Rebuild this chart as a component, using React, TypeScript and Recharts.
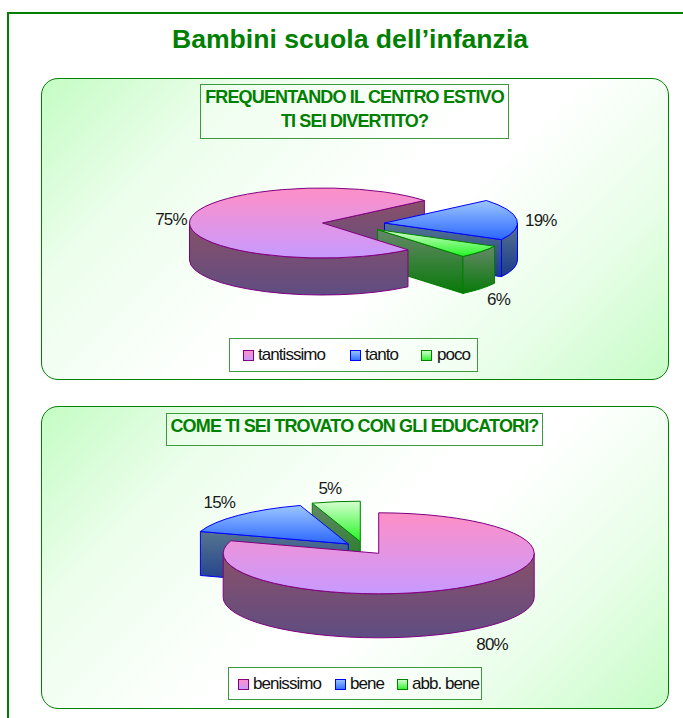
import { PieChart, Pie, Legend } from "recharts";

const FONT = '"Liberation Sans", Arial, sans-serif';

// ── Data ──────────────────────────────────────────────
const divertitoNames = ["tantissimo", "tanto", "poco"];
const divertitoValues = [75, 19, 6];
const educatoriNames = ["benissimo", "bene", "abb. bene"];
const educatoriValues = [80, 15, 5];

const SLICE_STYLES = [
  { top: "pinkTop", wall: "pinkWall", stroke: "#800080", swatch: "pinkSwatch" },
  { top: "blueTop", wall: "blueWall", stroke: "#0000ff", swatch: "blueSwatch" },
  { top: "greenTop", wall: "greenWall", stroke: "#008000", swatch: "greenSwatch" },
];

const RAD = Math.PI / 180;

type Geometry = {
  cx: number;
  cy: number;
  rx: number;
  ry: number;
  depth: number;
  explode: number[][];
  labelNudge: number[][];
};

// fake 3D pie: the library gives the angles, this squashes them on an ellipse
function sectorPaths(g: Geometry, index: number, startAngle: number, endAngle: number) {
  const [ox, oy] = g.explode[index];
  const ax = g.cx + ox;
  const ay = g.cy + oy;
  const pt = (a: number, drop = 0) =>
    `${(ax + g.rx * Math.cos(a * RAD)).toFixed(2)} ${(ay - g.ry * Math.sin(a * RAD) + drop).toFixed(2)}`;
  const hi = Math.max(startAngle, endAngle);
  const lo = Math.min(startAngle, endAngle);
  const large = hi - lo > 180 ? 1 : 0;

  const top = `M${ax} ${ay} L${pt(hi)} A${g.rx} ${g.ry} 0 ${large} 1 ${pt(lo)} Z`;

  // cut faces: only the ones turned towards the viewer
  const facing: number[] = [];
  if (Math.cos(hi * RAD) < -0.001) facing.push(hi);
  if (Math.cos(lo * RAD) > 0.001) facing.push(lo);
  const radial = facing.map(
    (a) => `M${ax} ${ay} L${pt(a)} L${pt(a, g.depth)} L${ax} ${ay + g.depth} Z`
  );

  // outer wall only where the rim faces the viewer (lower half of the ellipse)
  const outer: string[] = [];
  for (let k = -2; k <= 1; k++) {
    const from = Math.min(hi, 360 * k);
    const to = Math.max(lo, 360 * k - 180);
    if (from > to) {
      const big = from - to > 180 ? 1 : 0;
      outer.push(
        `M${pt(from)} A${g.rx} ${g.ry} 0 ${big} 1 ${pt(to)} L${pt(to, g.depth)} A${g.rx} ${g.ry} 0 ${big} 0 ${pt(from, g.depth)} Z`
      );
    }
  }
  return { top, radial, outer };
}

type LayerPart = "walls" | "body" | "all";

function makeShape(g: Geometry, names: string[], slice: number, part: LayerPart) {
  return (props: any) => {
    const index = names.indexOf(props.payload?.name ?? props.name);
    if (index !== slice) return <g />;
    const s = SLICE_STYLES[index];
    const { top, radial, outer } = sectorPaths(g, index, props.startAngle, props.endAngle);
    const common = { stroke: s.stroke, strokeWidth: 1, strokeLinejoin: "round" as const };
    return (
      <g>
        {part !== "body" &&
          radial.map((d, i) => <path key={i} d={d} fill={`url(#${s.wall})`} {...common} />)}
        {part !== "walls" &&
          outer.map((d, i) => <path key={i} d={d} fill={`url(#${s.wall})`} {...common} />)}
        {part !== "walls" && <path d={top} fill={`url(#${s.top})`} {...common} />}
      </g>
    );
  };
}

function Gradients() {
  const stops = (id: string, from: string, to: string) => (
    <linearGradient id={id} x1="0" y1="0" x2="0" y2="1">
      <stop offset="0%" stopColor={from} />
      <stop offset="100%" stopColor={to} />
    </linearGradient>
  );
  return (
    <defs>
      {stops("pinkTop", "#ff8fc6", "#c79aff")}
      {stops("pinkWall", "#8a5068", "#5f4d82")}
      {stops("blueTop", "#9cc6ff", "#2a66ff")}
      {stops("blueWall", "#55758f", "#1c3a8c")}
      {stops("greenTop", "#d6ffd0", "#22f522")}
      {stops("greenWall", "#66886a", "#087a08")}
      {stops("pinkSwatch", "#ff8fc6", "#c79aff")}
      {stops("blueSwatch", "#9cc6ff", "#3070ff")}
      {stops("greenSwatch", "#d6ffd0", "#30f030")}
    </defs>
  );
}

function Panel({
  top,
  height,
  titleBox,
  titleLines,
  names,
  values,
  startAngle,
  layers,
  geometry,
  legendBox,
  legendItems,
}: {
  top: number;
  height: number;
  titleBox: { left: number; top: number; width: number; height: number; lineHeight: number };
  titleLines: string[];
  names: string[];
  values: number[];
  startAngle: number;
  layers: [number, LayerPart][];
  geometry: Geometry;
  legendBox: { left: number; top: number; width: number; height: number };
  legendItems: { swatch: number; text: number }[];
}) {
  const rows = names.map((name, i) => ({ name, value: values[i] }));

  const renderLabel = (p: any) => {
    const i = names.indexOf(p.payload?.name ?? p.name);
    const [ox, oy] = geometry.explode[i];
    const [nx, ny] = geometry.labelNudge[i];
    const x = geometry.cx + ox + geometry.rx * Math.cos(p.midAngle * RAD) + nx;
    const y = geometry.cy + oy - geometry.ry * Math.sin(p.midAngle * RAD) + ny;
    return (
      <text
        x={x}
        y={y}
        textAnchor="middle"
        dominantBaseline="central"
        fill="#1a1a1a"
        fontFamily={FONT}
        fontSize={17}
        letterSpacing={-0.8}
      >
        {`${Math.round(p.percent * 100)}%`}
      </text>
    );
  };

  return (
    <div
      style={{
        position: "absolute",
        left: 41,
        top,
        width: 628,
        height,
        boxSizing: "border-box",
        border: "1px solid #008000",
        borderRadius: 17,
        background:
          "linear-gradient(135deg, #c4fcc4 0%, #ecfeec 22%, #ffffff 50%, #ffffff 58%, #e8fee8 80%, #c6fcc6 100%)",
      }}
    >
      <div
        style={{
          position: "absolute",
          ...titleBox,
          boxSizing: "border-box",
          border: "1px solid #3f9a3f",
          background: "rgba(255,255,255,0.18)",
          color: "#008000",
          fontFamily: FONT,
          fontWeight: 700,
          fontSize: 18,
          letterSpacing: -0.85,
          lineHeight: `${titleBox.lineHeight}px`,
          textAlign: "center",
          whiteSpace: "nowrap",
        }}
      >
        {titleLines.map((line) => (
          <div key={line}>{line}</div>
        ))}
      </div>
      <div style={{ position: "absolute", left: -1, top: -1 }}>
        <PieChart width={628} height={height} margin={{ top: 0, right: 0, bottom: 0, left: 0 }}>
          <Gradients />
          {layers.map(([slice, part], i) => (
            <Pie
              key={i}
              data={rows}
              dataKey="value"
              nameKey="name"
              cx={geometry.cx}
              cy={geometry.cy}
              innerRadius={0}
              outerRadius={geometry.rx}
              startAngle={startAngle}
              endAngle={startAngle - 360}
              stroke="none"
              isAnimationActive={false}
              legendType={i === 0 ? "rect" : "none"}
              labelLine={false}
              label={i === layers.length - 1 ? renderLabel : false}
              shape={makeShape(geometry, names, slice, part)}
            />
          ))}
          <Legend
            wrapperStyle={{ position: "absolute", ...legendBox, margin: 0 }}
            content={() => (
              <div
                style={{
                  position: "relative",
                  boxSizing: "border-box",
                  width: legendBox.width,
                  height: legendBox.height,
                  border: "1px solid #3f9a3f",
                  background: "rgba(255,255,255,0.35)",
                  fontFamily: FONT,
                  fontSize: 17,
                  letterSpacing: -0.95,
                  color: "#111",
                }}
              >
                {names.map((name, i) => (
                  <span key={name}>
                    <svg
                      width={11}
                      height={11}
                      style={{ position: "absolute", left: legendItems[i].swatch, top: 11 }}
                    >
                      <rect
                        x={0.5}
                        y={0.5}
                        width={10}
                        height={10}
                        fill={`url(#${SLICE_STYLES[i].swatch})`}
                        stroke={SLICE_STYLES[i].stroke}
                      />
                    </svg>
                    <span
                      style={{
                        position: "absolute",
                        left: legendItems[i].text,
                        top: 7,
                        lineHeight: "18px",
                        whiteSpace: "nowrap",
                      }}
                    >
                      {name}
                    </span>
                  </span>
                ))}
              </div>
            )}
          />
        </PieChart>
      </div>
    </div>
  );
}

export default function App() {
  return (
    <div
      style={{
        position: "fixed",
        left: 0,
        top: 0,
        width: 683,
        height: 718,
        overflow: "hidden",
        background: "#fff",
      }}
    >
      <div
        style={{
          position: "absolute",
          left: 7,
          top: 12,
          width: 800,
          height: 800,
          borderLeft: "2px solid #008000",
          borderTop: "2px solid #008000",
        }}
      />
      <div
        style={{
          position: "absolute",
          left: 0,
          top: 24,
          width: 700,
          textAlign: "center",
          color: "#008000",
          fontFamily: FONT,
          fontWeight: 700,
          fontSize: 26.6,
          lineHeight: "30px",
        }}
      >
        Bambini scuola dell’infanzia
      </div>

      <Panel
        top={78}
        height={302}
        titleBox={{ left: 158, top: 5, width: 309, height: 55, lineHeight: 24 }}
        titleLines={["FREQUENTANDO IL CENTRO ESTIVO", "TI SEI DIVERTITO?"]}
        names={divertitoNames}
        values={divertitoValues}
        startAngle={-50}
        layers={[
          [0, "walls"],
          [1, "all"],
          [2, "all"],
          [0, "body"],
        ]}
        geometry={{
          cx: 281.5,
          cy: 145,
          rx: 133,
          ry: 35,
          depth: 37,
          explode: [
            [0, 0],
            [62, 0],
            [55, 6.6],
          ],
          labelNudge: [
            [-19, 0],
            [24, 1],
            [18, 48],
          ],
        }}
        legendBox={{ left: 188, top: 260, width: 249, height: 34 }}
        legendItems={[
          { swatch: 13, text: 28 },
          { swatch: 120, text: 135 },
          { swatch: 191, text: 207 },
        ]}
      />

      <Panel
        top={406}
        height={303}
        titleBox={{ left: 124, top: 6, width: 377, height: 33, lineHeight: 24 }}
        titleLines={["COME TI SEI TROVATO CON GLI EDUCATORI?"]}
        names={educatoriNames}
        values={educatoriValues}
        startAngle={90}
        layers={[
          [2, "all"],
          [1, "all"],
          [0, "all"],
        ]}
        geometry={{
          cx: 337.7,
          cy: 147.3,
          rx: 155.5,
          ry: 40.5,
          depth: 44,
          explode: [
            [0, 0],
            [-30.4, -9.3],
            [-18.4, -11.6],
          ],
          labelNudge: [
            [22, 58],
            [-19, -13],
            [-6, -13],
          ],
        }}
        legendBox={{ left: 187, top: 261, width: 254, height: 33 }}
        legendItems={[
          { swatch: 9, text: 24 },
          { swatch: 106, text: 121 },
          { swatch: 168, text: 183 },
        ]}
      />
    </div>
  );
}
